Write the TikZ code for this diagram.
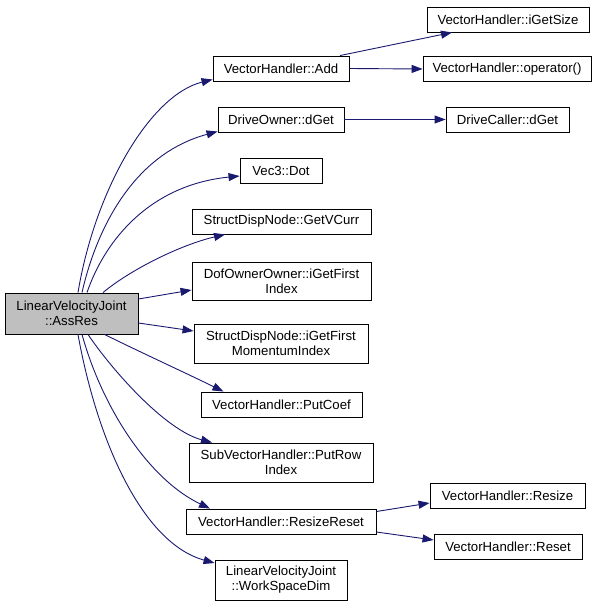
\documentclass[tikz,border=0pt]{standalone}
\usepackage{fontspec}
\setmainfont{Liberation Sans}
\usetikzlibrary{arrows.meta}
\definecolor{edgecol}{HTML}{191970}
\definecolor{maingray}{HTML}{BFBFBF}
\begin{document}
\begin{tikzpicture}[x=1pt,y=-1pt,
 box/.style={draw=black, line width=0.9pt, rectangle, inner sep=0pt, align=center,
   font=\fontsize{13.2}{15}\selectfont, fill=white, minimum height=25pt},
 edge/.style={draw=edgecol, line width=0.9pt, -{Triangle[length=11pt,width=8pt]}}]
\useasboundingbox (0,0) rectangle (597,605);
\node[box, minimum width=133pt, minimum height=41pt, fill=maingray] (main) at (71.5,313.5) {LinearVelocityJoint\\::AssRes};
\node[box, minimum width=136pt] (add) at (281,68.5) {VectorHandler::Add};
\node[box, minimum width=162pt] (iget) at (508,19.5) {VectorHandler::iGetSize};
\node[box, minimum width=168pt] (oper) at (507,69) {VectorHandler::operator()};
\node[box, minimum width=126pt] (dget) at (281,119.5) {DriveOwner::dGet};
\node[box, minimum width=123pt] (dcall) at (507.5,119.5) {DriveCaller::dGet};
\node[box, minimum width=82pt] (dot) at (281,170.5) {Vec3::Dot};
\node[box, minimum width=179pt] (gvc) at (281.5,221.5) {StructDispNode::GetVCurr};
\node[box, minimum width=179pt, minimum height=38pt] (dof) at (281.5,281) {DofOwnerOwner::iGetFirst\\Index};
\node[box, minimum width=174pt, minimum height=39pt] (sdn) at (281,343.5) {StructDispNode::iGetFirst\\MomentumIndex};
\node[box, minimum width=161pt] (putc) at (281.5,404.5) {VectorHandler::PutCoef};
\node[box, minimum width=184pt, minimum height=39pt] (prow) at (281,462.5) {SubVectorHandler::PutRow\\Index};
\node[box, minimum width=190pt] (rr) at (281,521.5) {VectorHandler::ResizeReset};
\node[box, minimum width=155pt] (resize) at (507.5,495.5) {VectorHandler::Resize};
\node[box, minimum width=148pt] (reset) at (508,546.5) {VectorHandler::Reset};
\node[box, minimum width=132pt, minimum height=40pt] (wsd) at (281,580) {LinearVelocityJoint\\::WorkSpaceDim};

\draw[edge] ([xshift=6.5pt]main.north) .. controls (95,190) and (150,95) .. ([yshift=-11pt]add.west);
\draw[edge] ([xshift=10.5pt]main.north) .. controls (95,235) and (130,155) .. ([yshift=-12pt]dget.west);
\draw[edge] ([xshift=15.5pt]main.north) .. controls (105,240) and (150,185) .. ([yshift=-5.5pt]dot.west);
\draw[edge] ([xshift=31.5pt]main.north) .. controls (130,270) and (180,245) .. ([xshift=-56.5pt]gvc.south);
\draw[edge] ([yshift=14.5pt]main.east) -- ([yshift=-9pt]dof.west);
\draw[edge] ([yshift=-9.5pt]main.east) -- ([yshift=12.5pt]sdn.west);
\draw[edge] ([xshift=33pt]main.south) .. controls (140,352) and (190,375) .. ([xshift=-58pt]putc.north);
\draw[edge] ([xshift=16.5pt]main.south) .. controls (112,370) and (165,430) .. ([xshift=-69pt]prow.north);
\draw[edge] ([xshift=10.5pt]main.south) .. controls (103,410) and (150,480) .. ([xshift=-71pt]rr.north);
\draw[edge] ([xshift=6.5pt]main.south) .. controls (97,440) and (142,543) .. ([yshift=17pt]wsd.west);
\draw[edge] ([xshift=59pt]add.north) -- ([xshift=-56pt]iget.south);
\draw[edge] (add.east) -- (oper.west);
\draw[edge] (dget.east) -- (dcall.west);
\draw[edge] ([yshift=10pt]rr.east) -- ([yshift=-7.5pt]resize.west);
\draw[edge] ([yshift=-10.5pt]rr.east) -- ([yshift=6.5pt]reset.west);
\end{tikzpicture}
\end{document}
